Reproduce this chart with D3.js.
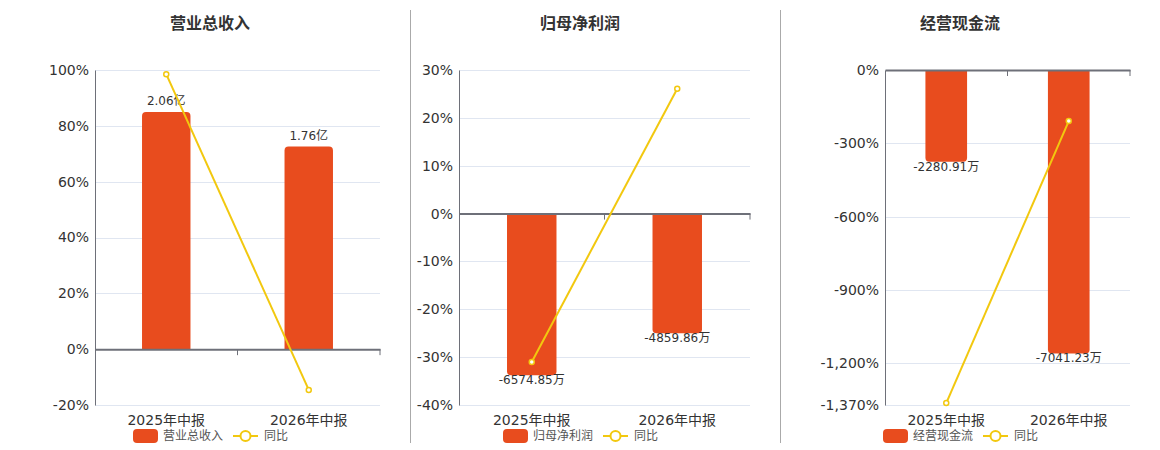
<!DOCTYPE html>
<html>
<head>
<meta charset="utf-8">
<script src="https://cdn.jsdelivr.net/npm/d3@7"></script>
<style>
  body { margin: 0; background: #fff; }
  svg { display: block; font-family: "DejaVu Sans", "Noto Sans CJK SC", sans-serif; }
</style>
</head>
<body>
<div id="chart"></div>
<script>
// data
const periods = ["2025年中报", "2026年中报"];
const titles = ["营业总收入", "归母净利润", "经营现金流"];

const revenue = [2.06, 1.76];            // 亿
const revenueLabels = ["2.06亿", "1.76亿"];
const revenueYoy = [98.5, -14.6];        // %

const netProfit = [-6574.85, -4859.86];  // 万
const netProfitLabels = ["-6574.85万", "-4859.86万"];
const netProfitYoy = [-31.0, 26.1];

const cashFlow = [-2280.91, -7041.23];   // 万
const cashFlowLabels = ["-2280.91万", "-7041.23万"];
const cashFlowYoy = [-1362, -208.7];

const yoyTicks1 = [-20, 0, 20, 40, 60, 80, 100];
const yoyTicks2 = [-40, -30, -20, -10, 0, 10, 20, 30];
const yoyTicks3 = [-1370, -1200, -900, -600, -300, 0];

const barColor = "#E84C1E",
  lineColor = "#F2C80F",
  axisColor = "#6E7079",
  gridColor = "#E0E6F1",
  textColor = "#333";

// plain hyphen for negatives, like the reference
const fmt = d3.formatLocale({
  decimal: ".", thousands: ",", grouping: [3], currency: ["", ""], minus: "-"
}).format(",");

const svg = d3.select("#chart").append("svg")
  .attr("width", 1160)
  .attr("height", 450);

// panel separators
[410.5, 780.5].forEach(x => {
  svg.append("line")
    .attr("x1", x).attr("x2", x)
    .attr("y1", 10).attr("y2", 443)
    .attr("stroke", "#aaa");
});

const panels = [
  { title: titles[0], center: 210, left: 95, right: 380,
    bars: revenue, labels: revenueLabels, yoy: revenueYoy,
    yoyDomain: [-20, 100], ticks: yoyTicks1, barDomain: [-0.485, 2.425] },
  { title: titles[1], center: 580, left: 459, right: 750,
    bars: netProfit, labels: netProfitLabels, yoy: netProfitYoy,
    yoyDomain: [-40, 30], ticks: yoyTicks2, barDomain: [-7786, 5858] },
  { title: titles[2], center: 960, left: 885, right: 1130,
    bars: cashFlow, labels: cashFlowLabels, yoy: cashFlowYoy,
    yoyDomain: [-1370, 0], ticks: yoyTicks3, barDomain: [-8318, 0] }
];

const plotTop = 70, plotBottom = 405;

// path for a bar with rounded far end
function barPath(x, w, y0, y1, r) {
  const up = y1 < y0;
  const h = Math.abs(y1 - y0);
  r = Math.min(r, h / 2, w / 2);
  if (up) {
    return `M${x},${y0}V${y1 + r}Q${x},${y1} ${x + r},${y1}H${x + w - r}Q${x + w},${y1} ${x + w},${y1 + r}V${y0}Z`;
  }
  return `M${x},${y0}V${y1 - r}Q${x},${y1} ${x + r},${y1}H${x + w - r}Q${x + w},${y1} ${x + w},${y1 - r}V${y0}Z`;
}

panels.forEach(p => {
  const g = svg.append("g");

  const x = d3.scaleBand().domain(periods).range([p.left, p.right]);
  const y = d3.scaleLinear().domain(p.yoyDomain).range([plotBottom, plotTop]);
  const yBar = d3.scaleLinear().domain(p.barDomain).range([plotBottom, plotTop]);
  const zero = y(0);

  // title
  g.append("text")
    .attr("x", p.center).attr("y", 29)
    .attr("text-anchor", "middle")
    .attr("font-size", 16).attr("font-weight", "bold")
    .attr("fill", textColor)
    .text(p.title);

  // grid lines
  g.selectAll(".grid").data(p.ticks.filter(t => t !== 0)).join("line")
    .attr("x1", p.left).attr("x2", p.right)
    .attr("y1", d => Math.round(y(d)) + 0.5).attr("y2", d => Math.round(y(d)) + 0.5)
    .attr("stroke", gridColor);

  // y axis
  const yAxis = g.append("g")
    .attr("transform", `translate(${p.left},0)`)
    .call(d3.axisLeft(y).tickValues(p.ticks).tickSize(0).tickPadding(6)
      .tickFormat(d => fmt(d) + "%"));
  yAxis.select(".domain").attr("stroke", axisColor);
  yAxis.selectAll("text")
    .attr("font-size", 14)
    .attr("fill", textColor)
    .attr("font-family", "DejaVu Sans, Noto Sans CJK SC, sans-serif");

  // bars
  const bw = x.bandwidth() * 0.34;
  g.selectAll(".bar").data(p.bars).join("path")
    .attr("d", (d, i) => barPath(x(periods[i]) + (x.bandwidth() - bw) / 2, bw, zero, yBar(d), 4))
    .attr("fill", barColor);

  // bar labels
  g.selectAll(".blabel").data(p.bars).join("text")
    .attr("x", (d, i) => x(periods[i]) + x.bandwidth() / 2)
    .attr("y", d => d >= 0 ? yBar(d) - 11 : yBar(d) + 4.5)
    .attr("dy", "0.35em")
    .attr("text-anchor", "middle")
    .attr("font-size", 12)
    .attr("fill", textColor)
    .text((d, i) => p.labels[i]);

  // x axis at zero
  const xAxis = g.append("g")
    .attr("transform", `translate(0,${zero})`)
    .call(d3.axisBottom(x).tickSize(0).tickFormat(""));
  xAxis.select(".domain").attr("stroke", axisColor).attr("stroke-width", 2);
  xAxis.selectAll(".tick").remove();
  [1, 2].forEach(k => {
    xAxis.append("line")
      .attr("x1", p.left + k * x.step()).attr("x2", p.left + k * x.step())
      .attr("y1", 0).attr("y2", 6)
      .attr("stroke", axisColor);
  });

  // category labels
  g.selectAll(".xlabel").data(periods).join("text")
    .attr("x", d => x(d) + x.bandwidth() / 2)
    .attr("y", 425)
    .attr("text-anchor", "middle")
    .attr("font-size", 14)
    .attr("fill", textColor)
    .text(d => d);

  // yoy line
  const pts = p.yoy.map((v, i) => [x(periods[i]) + x.bandwidth() / 2, y(v)]);
  g.append("path")
    .attr("d", d3.line()(pts))
    .attr("fill", "none")
    .attr("stroke", lineColor)
    .attr("stroke-width", 2);
  g.selectAll(".pt").data(pts).join("circle")
    .attr("cx", d => d[0]).attr("cy", d => d[1])
    .attr("r", 2.5)
    .attr("fill", "#fff")
    .attr("stroke", lineColor)
    .attr("stroke-width", 1.5);

  // legend
  const lg = g.append("g").attr("transform", `translate(${p.center},436)`);
  lg.append("rect")
    .attr("x", -77).attr("y", -7)
    .attr("width", 25).attr("height", 14)
    .attr("rx", 4)
    .attr("fill", barColor);
  lg.append("text")
    .attr("x", -47).attr("dy", "0.35em")
    .attr("font-size", 12).attr("fill", "#555")
    .text(p.title);
  lg.append("line")
    .attr("x1", 23).attr("x2", 48)
    .attr("stroke", lineColor).attr("stroke-width", 2);
  lg.append("circle")
    .attr("cx", 35.5).attr("r", 5)
    .attr("fill", "#fff")
    .attr("stroke", lineColor).attr("stroke-width", 2);
  lg.append("text")
    .attr("x", 54).attr("dy", "0.35em")
    .attr("font-size", 12).attr("fill", "#555")
    .text("同比");
});
</script>
</body>
</html>
